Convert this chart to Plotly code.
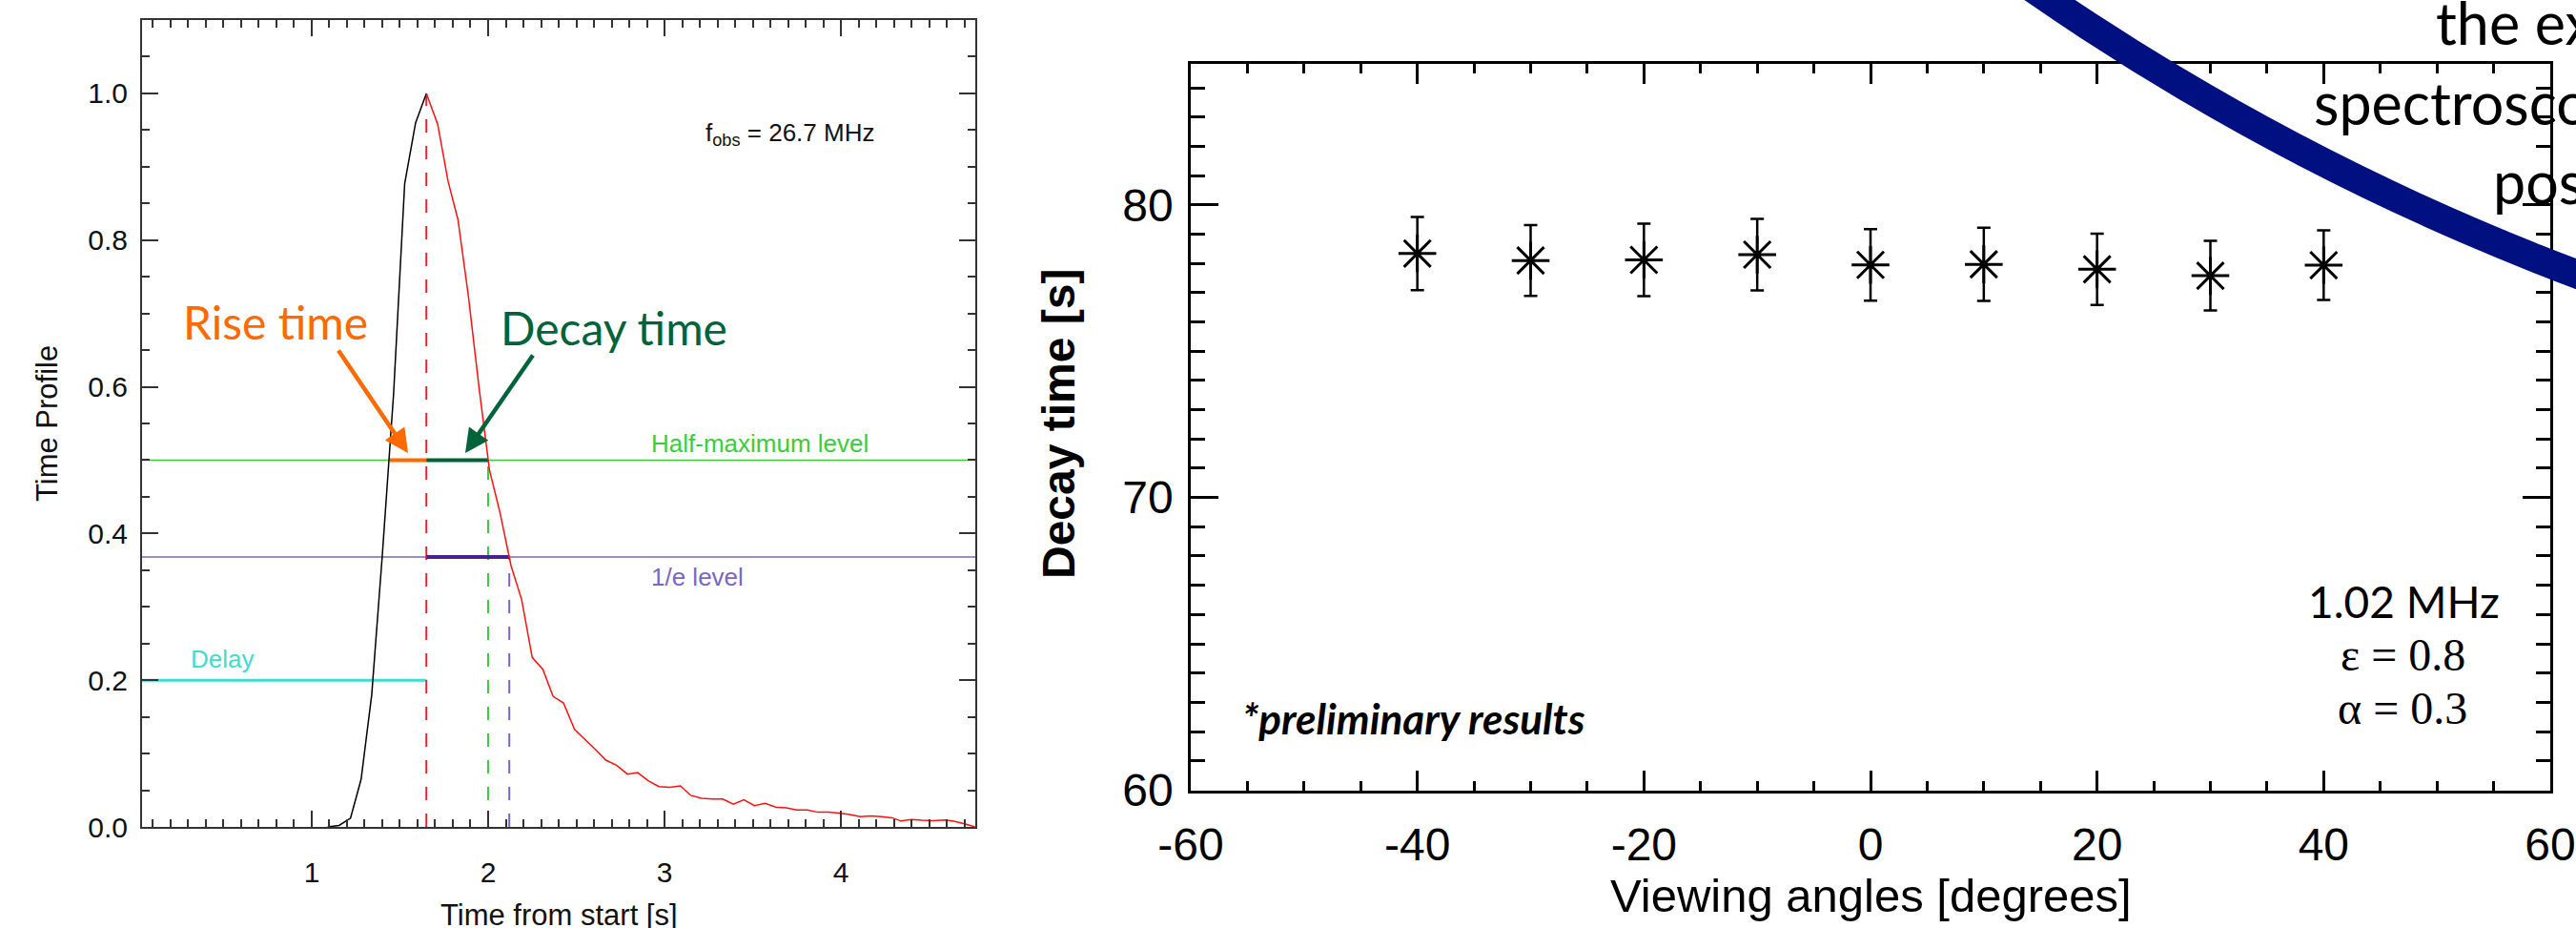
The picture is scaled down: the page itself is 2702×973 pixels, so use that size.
import math
import plotly.graph_objects as go

W, H = 2702, 973

# ---------------- Left panel: time profile ----------------
rise_time_s = [1.09, 1.155, 1.22, 1.28, 1.34, 1.40, 1.464, 1.527, 1.589, 1.65]
rise_profile = [0.0, 0.002, 0.012, 0.065, 0.18, 0.37, 0.59, 0.877, 0.96, 1.0]

decay_time_s = [1.65, 1.714, 1.773, 1.829, 1.888, 1.951, 2.008, 2.067, 2.13, 2.19,
                2.25, 2.31, 2.368, 2.427, 2.49, 2.548, 2.611, 2.668, 2.728, 2.79,
                2.848, 2.908, 2.968, 3.03, 3.09, 3.149, 3.21, 3.27, 3.33, 3.39,
                3.45, 3.51, 3.57, 3.63, 3.69, 3.75, 3.81, 3.87, 3.93, 3.99,
                4.05, 4.11, 4.17, 4.23, 4.29, 4.34, 4.40, 4.46, 4.52, 4.59,
                4.64, 4.70, 4.76]
decay_profile = [1.0, 0.958, 0.880, 0.828, 0.724, 0.594, 0.486, 0.429, 0.356, 0.31,
                 0.231, 0.215, 0.178, 0.169, 0.133, 0.12, 0.105, 0.091, 0.084, 0.072,
                 0.074, 0.063, 0.055, 0.054, 0.056, 0.043, 0.039, 0.038, 0.038, 0.031,
                 0.037, 0.029, 0.032, 0.027, 0.026, 0.023, 0.023, 0.020, 0.020, 0.019,
                 0.017, 0.014, 0.015, 0.014, 0.0125, 0.008, 0.010, 0.009, 0.0085, 0.0094,
                 0.0078, 0.0042, 0.0]

start_time_s = 0.038
end_time_s = 4.762
peak_time_s = 1.65
rise_half_time_s = 1.443
decay_half_time_s = 2.0
decay_e_time_s = 2.12
half_level = 0.5
e_level = 1 / math.e
delay_level = 0.2

left_x_ticks = [1, 2, 3, 4]
left_y_ticks = [0.0, 0.2, 0.4, 0.6, 0.8, 1.0]

# ---------------- Right panel: decay time vs viewing angle ----------------
viewing_angles = [-40, -30, -20, -10, 0, 10, 20, 30, 40]
decay_times = [78.34, 78.10, 78.12, 78.30, 77.95, 77.97, 77.80, 77.58, 77.94]
decay_errors = [1.25, 1.21, 1.24, 1.22, 1.22, 1.25, 1.22, 1.19, 1.19]

right_x_ticks = [-60, -40, -20, 0, 20, 40, 60]
right_x_ticklabels = ["-60", "-40", "-20", "0", "20", "40", "60"]
right_y_ticks = [60, 70, 80]


def px(x):
    return x / W


def py(y):
    return 1 - y / H


LEFT_FONT = "Liberation Sans, Arial, sans-serif"
SLIDE_FONT = "Lato, Open Sans, sans-serif"

fig = go.Figure()

# Left panel reference lines
fig.add_trace(go.Scatter(x=[start_time_s, end_time_s], y=[half_level, half_level], mode="lines",
                         line=dict(color="#3ACD3A", width=1.5), xaxis="x", yaxis="y", showlegend=False))
fig.add_trace(go.Scatter(x=[start_time_s, end_time_s], y=[e_level, e_level], mode="lines",
                         line=dict(color="#7A66C4", width=1.5), xaxis="x", yaxis="y", showlegend=False))
fig.add_trace(go.Scatter(x=[start_time_s, peak_time_s], y=[delay_level, delay_level], mode="lines",
                         line=dict(color="#3FDCD0", width=3), xaxis="x", yaxis="y", showlegend=False))
# dashed verticals
fig.add_trace(go.Scatter(x=[peak_time_s, peak_time_s], y=[0, 1.0], mode="lines",
                         line=dict(color="#EE2222", width=2, dash="14px,14px"), xaxis="x", yaxis="y", showlegend=False))
fig.add_trace(go.Scatter(x=[decay_half_time_s, decay_half_time_s], y=[0, half_level], mode="lines",
                         line=dict(color="#3ACD3A", width=2, dash="14px,14px"), xaxis="x", yaxis="y", showlegend=False))
fig.add_trace(go.Scatter(x=[decay_e_time_s, decay_e_time_s], y=[0, e_level], mode="lines",
                         line=dict(color="#7A66C4", width=2, dash="14px,14px"), xaxis="x", yaxis="y", showlegend=False))
# measured segments
fig.add_trace(go.Scatter(x=[rise_half_time_s, peak_time_s], y=[half_level, half_level], mode="lines",
                         line=dict(color="#FF6A00", width=4), xaxis="x", yaxis="y", showlegend=False))
fig.add_trace(go.Scatter(x=[peak_time_s, decay_half_time_s], y=[half_level, half_level], mode="lines",
                         line=dict(color="#00633A", width=4), xaxis="x", yaxis="y", showlegend=False))
fig.add_trace(go.Scatter(x=[peak_time_s, decay_e_time_s], y=[e_level, e_level], mode="lines",
                         line=dict(color="#4A1F8E", width=4), xaxis="x", yaxis="y", showlegend=False))
# profile
fig.add_trace(go.Scatter(x=rise_time_s, y=rise_profile, mode="lines",
                         line=dict(color="black", width=1.5), xaxis="x", yaxis="y", showlegend=False))
fig.add_trace(go.Scatter(x=decay_time_s, y=decay_profile, mode="lines",
                         line=dict(color="#FF1010", width=1.5), xaxis="x", yaxis="y", showlegend=False))

# Right panel
fig.add_trace(go.Scatter(x=viewing_angles, y=decay_times, mode="markers",
                         marker=dict(symbol="asterisk-open", size=33, color="black",
                                     line=dict(width=3, color="black")),
                         error_y=dict(type="data", array=decay_errors, color="black", thickness=2.5, width=7),
                         xaxis="x2", yaxis="y2", showlegend=False))

left_x_dom = [px(149), px(1023)]
left_y_dom = [py(867), py(21)]
right_x_dom = [px(1249), px(2675)]
right_y_dom = [py(829.3), py(66.7)]

axis_common_left = dict(showline=True, linecolor="#333333", linewidth=2, mirror="ticks",
                        ticks="inside", tickcolor="#333333", tickwidth=2, showgrid=False, zeroline=False,
                        automargin=False,
                        tickfont=dict(family=LEFT_FONT, size=30, color="#111111"))
axis_common_right = dict(showline=True, linecolor="black", linewidth=2.5, mirror="ticks",
                         ticks="inside", tickcolor="black", tickwidth=2.5, showgrid=False, zeroline=False,
                         automargin=False,
                         tickfont=dict(family=LEFT_FONT, size=48, color="black"))

fig.update_layout(
    width=W, height=H,
    autosize=False,
    margin=dict(l=0, r=0, t=0, b=0, pad=0, autoexpand=False),
    paper_bgcolor="white", plot_bgcolor="white",
    showlegend=False,
    xaxis=dict(domain=left_x_dom, range=[start_time_s, end_time_s], anchor="y",
               tickmode="array", tickvals=left_x_ticks, ticklen=17, ticklabelstandoff=20,
               minor=dict(dtick=0.1, tick0=0, ticklen=8, ticks="inside", tickcolor="#333333", tickwidth=2),
               **axis_common_left),
    yaxis=dict(domain=left_y_dom, range=[0, 1.1], anchor="x",
               tickmode="array", tickvals=left_y_ticks, tickformat=".1f", ticklen=17, ticklabelstandoff=7,
               minor=dict(dtick=0.05, tick0=0, ticklen=8, ticks="inside", tickcolor="#333333", tickwidth=2),
               **axis_common_left),
    xaxis2=dict(domain=right_x_dom, range=[-60, 60], anchor="y2",
                tickmode="array", tickvals=right_x_ticks, ticktext=right_x_ticklabels,
                ticklen=22, ticklabelstandoff=12,
                minor=dict(dtick=5, tick0=0, ticklen=11, ticks="inside", tickcolor="black", tickwidth=2.5),
                **axis_common_right),
    yaxis2=dict(domain=right_y_dom, range=[59.97, 84.83], anchor="x2",
                tickmode="array", tickvals=right_y_ticks, ticklen=29, ticklabelstandoff=6,
                minor=dict(dtick=1, tick0=0, ticklen=15, ticks="inside", tickcolor="black", tickwidth=2.5),
                **axis_common_right),
)

ann = []
# left panel titles
ann.append(dict(text="Time Profile", x=px(49), y=py(444), xref="paper", yref="paper", textangle=-90,
                showarrow=False, font=dict(family=LEFT_FONT, size=31, color="#111111"),
                xanchor="center", yanchor="middle"))
ann.append(dict(text="Time from start [s]", x=px(586), y=py(959), xref="paper", yref="paper",
                showarrow=False, font=dict(family=LEFT_FONT, size=31, color="#111111"),
                xanchor="center", yanchor="middle"))
ann.append(dict(text="f<sub>obs</sub> = 26.7 MHz", x=px(738), y=py(140), xref="paper", yref="paper",
                showarrow=False, font=dict(family=LEFT_FONT, size=26, color="#111111"),
                xanchor="left", yanchor="middle"))
ann.append(dict(text="Half-maximum level", x=px(681), y=py(465), xref="paper", yref="paper",
                showarrow=False, font=dict(family=LEFT_FONT, size=26, color="#3ACD3A"),
                xanchor="left", yanchor="middle"))
ann.append(dict(text="1/e level", x=px(681), y=py(605), xref="paper", yref="paper",
                showarrow=False, font=dict(family=LEFT_FONT, size=26, color="#7A66C4"),
                xanchor="left", yanchor="middle"))
ann.append(dict(text="Delay", x=px(198), y=py(691), xref="paper", yref="paper",
                showarrow=False, font=dict(family=LEFT_FONT, size=26, color="#3FDCD0"),
                xanchor="left", yanchor="middle"))
ann.append(dict(text="Rise time", x=px(289), y=py(338), xref="paper", yref="paper",
                showarrow=False, font=dict(family=SLIDE_FONT, size=48, color="#FF6A00"),
                xanchor="center", yanchor="middle"))
ann.append(dict(text="Decay time", x=px(644), y=py(343), xref="paper", yref="paper",
                showarrow=False, font=dict(family=SLIDE_FONT, size=48, color="#00633A"),
                xanchor="center", yanchor="middle"))
# arrows
ann.append(dict(text="", x=px(428), y=py(475), xref="paper", yref="paper", showarrow=True,
                ax=354 - 428, ay=366 - 475, axref="pixel", ayref="pixel",
                arrowhead=2, arrowsize=1.1, arrowwidth=4.5, arrowcolor="#FF6A00"))
ann.append(dict(text="", x=px(488), y=py(475), xref="paper", yref="paper", showarrow=True,
                ax=560 - 488, ay=371 - 475, axref="pixel", ayref="pixel",
                arrowhead=2, arrowsize=1.1, arrowwidth=4.5, arrowcolor="#00633A"))

# right panel titles
ann.append(dict(text="<b>Decay time [s]</b>", x=px(1110), y=py(445), xref="paper", yref="paper", textangle=-90,
                showarrow=False, font=dict(family=LEFT_FONT, size=48, color="black"),
                xanchor="center", yanchor="middle"))
ann.append(dict(text="Viewing angles [degrees]", x=px(1962), y=py(939), xref="paper", yref="paper",
                showarrow=False, font=dict(family=LEFT_FONT, size=49, color="black"),
                xanchor="center", yanchor="middle"))
ann.append(dict(text="<b><i>*preliminary results</i></b>", x=px(1301), y=py(753), xref="paper", yref="paper",
                showarrow=False, font=dict(family=SLIDE_FONT, size=44, color="black"),
                xanchor="left", yanchor="middle"))
ann.append(dict(text="1.02 MHz", x=px(2624), y=py(630), xref="paper", yref="paper",
                showarrow=False, font=dict(family=SLIDE_FONT, size=46, color="black"),
                xanchor="right", yanchor="middle"))
ann.append(dict(text="\u03b5 = 0.8", x=px(2520), y=py(686), xref="paper", yref="paper",
                showarrow=False, font=dict(family="Liberation Serif, serif", size=48, color="black"),
                xanchor="center", yanchor="middle"))
ann.append(dict(text="\u03b1 = 0.3", x=px(2520), y=py(742), xref="paper", yref="paper",
                showarrow=False, font=dict(family="Liberation Serif, serif", size=48, color="black"),
                xanchor="center", yanchor="middle"))

# slide text at top right (cut by image edge); y = bottom of text box (baseline + descent)
ann.append(dict(text="the ex", x=px(2553), y=py(62), xref="paper", yref="paper",
                showarrow=False, font=dict(family=SLIDE_FONT, size=61, color="black"),
                xanchor="left", yanchor="bottom"))
ann.append(dict(text="spectrosco", x=px(2425), y=py(146), xref="paper", yref="paper",
                showarrow=False, font=dict(family=SLIDE_FONT, size=61, color="black"),
                xanchor="left", yanchor="bottom"))
ann.append(dict(text="pos", x=px(2613), y=py(229), xref="paper", yref="paper",
                showarrow=False, font=dict(family=SLIDE_FONT, size=61, color="black"),
                xanchor="left", yanchor="bottom"))

fig.update_layout(annotations=ann)

# big navy callout arc (slide decoration), page-pixel circle converted to paper units
cx, cy, R = 3628.4, -2169.0, 2625.0
fig.add_shape(type="circle", xref="paper", yref="paper",
              x0=px(cx - R), x1=px(cx + R), y0=py(cy + R), y1=py(cy - R),
              line=dict(color="#001080", width=30), fillcolor="rgba(0,0,0,0)", layer="above")

# remove the default page margin so the figure fills the window from (0, 0)
fig.write_html("out.html", config={"displayModeBar": False},
               post_script="document.body.style.margin='0';")
